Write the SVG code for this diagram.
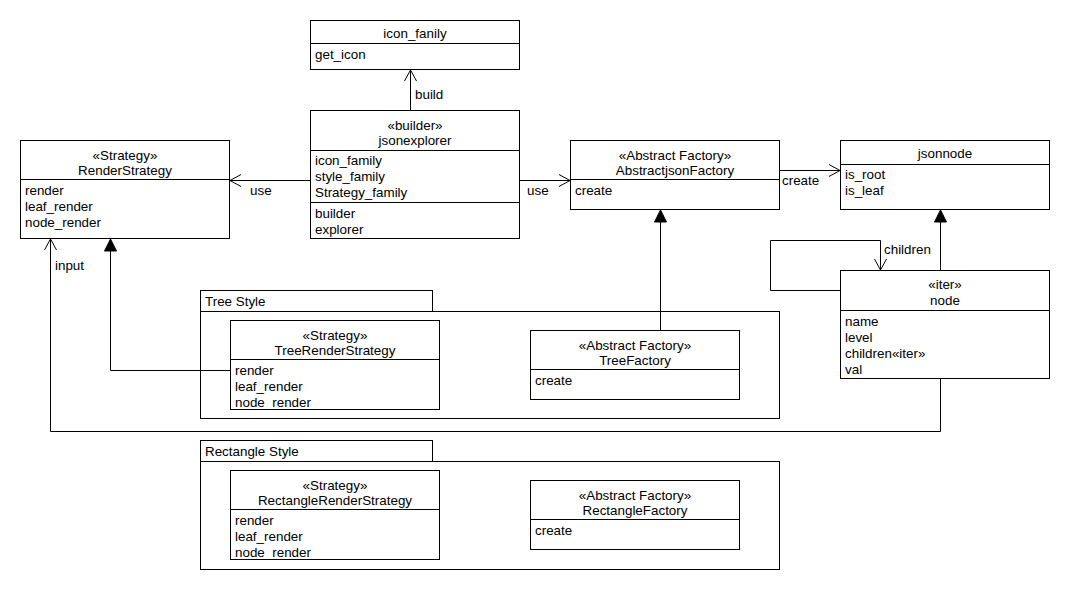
<svg xmlns="http://www.w3.org/2000/svg" width="1070" height="590" viewBox="0 0 1070 590">
<style>
rect{fill:#fff;stroke:#000;stroke-width:1}
line,.c{stroke:#000;stroke-width:1;fill:none}
text{font-family:"Liberation Sans",Arial,sans-serif;font-size:13.4px;fill:#000}
.m{text-anchor:middle}
.open{stroke:#000;stroke-width:1;fill:none}
.tri{fill:#000;stroke:#000}
</style>
<rect x="0" y="0" width="1070" height="590" style="stroke:none"/>
<g id="pkg-tree">
<rect x="200.5" y="290.5" width="232" height="21"/>
<rect x="200.5" y="311.5" width="579" height="107"/>
<text x="205" y="305.5">Tree Style</text>
</g>
<g id="pkg-rect">
<rect x="200.5" y="440.5" width="232" height="21"/>
<rect x="200.5" y="461.5" width="579" height="108"/>
<text x="205" y="455.5">Rectangle Style</text>
</g>
<g id="icon_fanily">
<rect x="310.5" y="20.5" width="209" height="49"/>
<line x1="310.5" y1="43.5" x2="519.5" y2="43.5"/>
<text class="m" x="415" y="37.5">icon_fanily</text>
<text x="315" y="58.5">get_icon</text>
</g>
<g id="jsonexplorer">
<rect x="310.5" y="110.5" width="209" height="128"/>
<line x1="310.5" y1="150.5" x2="519.5" y2="150.5"/>
<line x1="310.5" y1="202.5" x2="519.5" y2="202.5"/>
<text class="m" x="415" y="129.5">«builder»</text>
<text class="m" x="415" y="144.5">jsonexplorer</text>
<text x="315" y="164.5">icon_family</text>
<text x="315" y="180.5">style_family</text>
<text x="315" y="196.5">Strategy_family</text>
<text x="315" y="217.5">builder</text>
<text x="315" y="233.5">explorer</text>
</g>
<g id="RenderStrategy">
<rect x="20.5" y="140.5" width="209" height="98"/>
<line x1="20.5" y1="179.5" x2="229.5" y2="179.5"/>
<text class="m" x="125" y="159.5">«Strategy»</text>
<text class="m" x="125" y="174.5">RenderStrategy</text>
<text x="25" y="194.5">render</text>
<text x="25" y="210.5">leaf_render</text>
<text x="25" y="226.5">node_render</text>
</g>
<g id="AbstractjsonFactory">
<rect x="570.5" y="140.5" width="209" height="69"/>
<line x1="570.5" y1="179.5" x2="779.5" y2="179.5"/>
<text class="m" x="675" y="159.5">«Abstract Factory»</text>
<text class="m" x="675" y="174.5">AbstractjsonFactory</text>
<text x="575" y="194.5">create</text>
</g>
<g id="jsonnode">
<rect x="840.5" y="140.5" width="209" height="69"/>
<line x1="840.5" y1="164.5" x2="1049.5" y2="164.5"/>
<text class="m" x="945" y="157.5">jsonnode</text>
<text x="845" y="178.5">is_root</text>
<text x="845" y="194.5">is_leaf</text>
</g>
<g id="node">
<rect x="840.5" y="270.5" width="209" height="108"/>
<line x1="840.5" y1="310.5" x2="1049.5" y2="310.5"/>
<text class="m" x="945" y="288.5">«iter»</text>
<text class="m" x="945" y="304.5">node</text>
<text x="845" y="325.5">name</text>
<text x="845" y="341.5">level</text>
<text x="845" y="357.5">children«iter»</text>
<text x="845" y="373.5">val</text>
</g>
<g id="TreeRenderStrategy">
<rect x="230.5" y="320.5" width="209" height="89"/>
<line x1="230.5" y1="359.5" x2="439.5" y2="359.5"/>
<text class="m" x="335" y="339.5">«Strategy»</text>
<text class="m" x="335" y="354.5">TreeRenderStrategy</text>
<text x="235" y="374.5">render</text>
<text x="235" y="390.5">leaf_render</text>
<text x="235" y="406.5">node_render</text>
</g>
<g id="TreeFactory">
<rect x="530.5" y="330.5" width="209" height="69"/>
<line x1="530.5" y1="369.5" x2="739.5" y2="369.5"/>
<text class="m" x="635" y="349.5">«Abstract Factory»</text>
<text class="m" x="635" y="364.5">TreeFactory</text>
<text x="535" y="384.5">create</text>
</g>
<g id="RectangleRenderStrategy">
<rect x="230.5" y="470.5" width="209" height="89"/>
<line x1="230.5" y1="509.5" x2="439.5" y2="509.5"/>
<text class="m" x="335" y="489.5">«Strategy»</text>
<text class="m" x="335" y="504.5">RectangleRenderStrategy</text>
<text x="235" y="524.5">render</text>
<text x="235" y="540.5">leaf_render</text>
<text x="235" y="556.5">node_render</text>
</g>
<g id="RectangleFactory">
<rect x="530.5" y="480.5" width="209" height="69"/>
<line x1="530.5" y1="519.5" x2="739.5" y2="519.5"/>
<text class="m" x="635" y="499.5">«Abstract Factory»</text>
<text class="m" x="635" y="514.5">RectangleFactory</text>
<text x="535" y="534.5">create</text>
</g>
<g id="connectors">
<line x1="410.5" y1="110" x2="410.5" y2="70"/>
<polyline class="open" points="404.5,81 410.5,70 416.5,81"/>
<text x="415" y="98.5">build</text>
<line x1="310" y1="180.5" x2="230" y2="180.5"/>
<polyline class="open" points="241,174.5 230,180.5 241,186.5"/>
<text x="250" y="194.5">use</text>
<line x1="520" y1="180.5" x2="570" y2="180.5"/>
<polyline class="open" points="559,174.5 570,180.5 559,186.5"/>
<text x="527" y="194.5">use</text>
<line x1="780" y1="170.5" x2="840" y2="170.5"/>
<polyline class="open" points="829,164.5 840,170.5 829,176.5"/>
<text x="782" y="184.5">create</text>
<line x1="940.5" y1="270" x2="940.5" y2="222"/>
<polygon class="tri" points="940.5,210 934.5,222 946.5,222"/>
<polyline class="c" points="840,290.5 770.5,290.5 770.5,240.5 880.5,240.5 880.5,270"/>
<polyline class="open" points="874.5,259 880.5,270 886.5,259"/>
<text x="884" y="253.5">children</text>
<line x1="660.5" y1="330" x2="660.5" y2="222"/>
<polygon class="tri" points="660.5,210 654.5,222 666.5,222"/>
<polyline class="c" points="230,370.5 110.5,370.5 110.5,251"/>
<polygon class="tri" points="110.5,239 104.5,251 116.5,251"/>
<polyline class="c" points="940.5,379 940.5,431.5 50.5,431.5 50.5,239"/>
<polyline class="open" points="44.5,250 50.5,239 56.5,250"/>
<text x="55" y="269.5">input</text>
</g>
</svg>
